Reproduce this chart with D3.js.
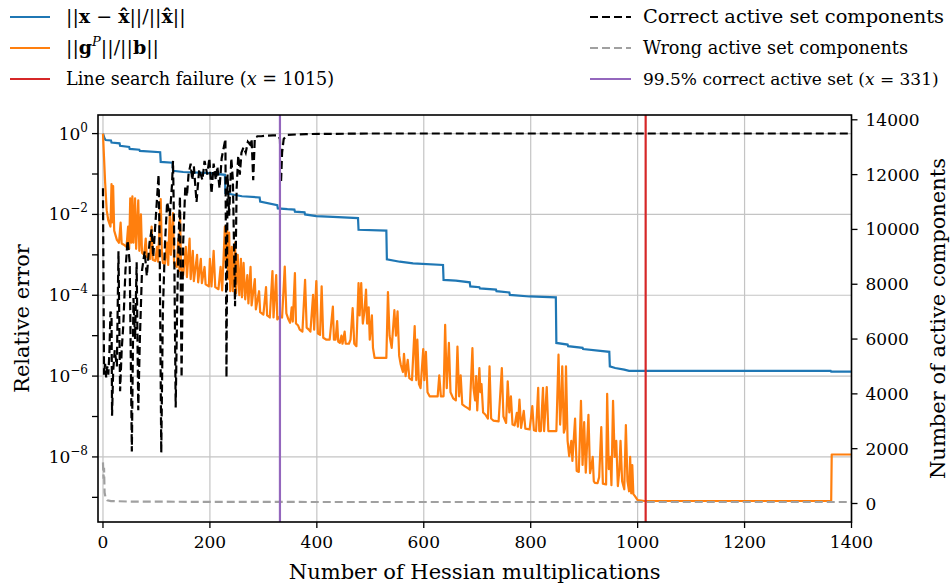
<!DOCTYPE html>
<html>
<head>
<meta charset="utf-8">
<script src="https://cdn.jsdelivr.net/npm/d3@7"></script>
<style>
body { margin: 0; background: #fff; }
text { font-family: "DejaVu Serif", serif; fill: #000; }
</style>
</head>
<body>
<div id="chart"></div>
<script>
// ticks
var xTicks = [0, 200, 400, 600, 800, 1000, 1200, 1400];
var leftTickExps = [0, -1, -2, -3, -4, -5, -6, -7, -8, -9];
var leftLabelExps = [0, -2, -4, -6, -8];
var rightTicks = [0, 2000, 4000, 6000, 8000, 10000, 12000, 14000];

var failX = 1015;   // line search failure
var activeX = 331;  // 99.5% correct active set

// ||x - xhat|| / ||xhat||  -> [hessian mults, log10 value]
var errPts = [[0, 0], [3, -0.12], [5, -0.16], [15, -0.17], [16, -0.22], [31, -0.24], [32, -0.3],
    [49, -0.33], [50, -0.38], [68, -0.4], [69, -0.43], [107, -0.46], [108, -0.7], [130, -0.72],
    [131, -0.92], [150, -0.95], [200, -0.98], [228, -1.02], [229, -1.47], [240, -1.5], [260, -1.55],
    [293, -1.58], [294, -1.68], [326, -1.77], [327, -1.85], [345, -1.87], [358, -1.88], [359, -1.93],
    [377, -1.95], [378, -2.0], [399, -2.04], [430, -2.06], [477, -2.09], [478, -2.38], [530, -2.4],
    [531, -3.11], [555, -3.17], [580, -3.21], [636, -3.25], [637, -3.62], [660, -3.64], [686, -3.68],
    [687, -3.78], [704, -3.8], [705, -3.83], [735, -3.86], [736, -3.9], [760, -3.93], [761, -3.99],
    [798, -4.03], [847, -4.05], [848, -5.18], [869, -5.22], [870, -5.26], [897, -5.3], [898, -5.33],
    [947, -5.4], [948, -5.76], [958, -5.8], [975, -5.84], [984, -5.87], [1361, -5.87], [1362, -5.89],
    [1400, -5.89]];

// ||g^P|| / ||b||  -> [hessian mults, log10 value]
var gradPts = [[0, 0], [2, -0.6], [4, -1.2], [7, -1.9], [10, -2.15], [14, -2.3], [16, -1.25], [17, -2.2],
    [19, -1.3], [21, -2.4], [26, -2.63], [30, -2.7], [33, -2.2], [35, -2.72], [39, -2.75], [44, -2.8],
    [47, -2.3], [49, -2.85], [51, -1.6], [53, -2.7], [55, -1.55], [57, -2.7], [60, -1.6], [62, -2.85],
    [66, -1.65], [68, -2.9], [71, -2.0], [73, -2.95], [77, -3.0], [80, -2.6], [82, -3.05], [88, -3.1],
    [91, -2.3], [93, -3.12], [98, -3.15], [101, -2.8], [103, -3.17], [108, -1.62], [110, -2.9], [112, -3.2],
    [116, -3.22], [120, -2.7], [122, -3.25], [125, -1.95], [127, -3.0], [131, -1.97], [133, -3.2],
    [138, -3.3], [141, -2.6], [143, -3.4], [144, -1.95], [146, -3.3], [150, -3.5], [155, -2.8],
    [157, -3.55], [162, -2.6], [164, -3.6], [168, -2.9], [170, -3.65], [176, -3.0], [178, -3.68],
    [183, -3.1], [185, -3.7], [190, -3.3], [192, -3.73], [198, -3.78], [200, -3.1], [203, -3.78],
    [207, -2.9], [210, -3.8], [216, -3.85], [220, -3.3], [223, -3.88], [228, -2.3], [230, -3.3],
    [232, -2.35], [234, -3.6], [236, -2.45], [238, -3.9], [241, -2.8], [243, -3.9], [247, -2.7],
    [249, -3.95], [252, -3.0], [255, -4.0], [258, -3.1], [260, -4.05], [263, -3.2], [266, -4.1],
    [270, -3.5], [272, -4.2], [276, -3.3], [278, -4.25], [284, -3.6], [286, -4.35], [292, -3.9],
    [294, -4.42], [300, -4.48], [305, -3.8], [307, -4.5], [312, -4.55], [317, -3.4], [319, -4.55],
    [324, -3.5], [326, -4.6], [331, -4.52], [335, -4.55], [340, -3.29], [343, -4.45], [347, -4.6],
    [350, -4.68], [353, -4.3], [355, -4.65], [359, -3.45], [361, -4.7], [365, -4.75], [368, -4.85],
    [373, -4.9], [378, -3.62], [381, -4.8], [385, -4.85], [388, -4.9], [393, -3.99], [395, -4.85],
    [399, -3.65], [402, -4.95], [406, -4.98], [409, -3.78], [412, -5.05], [418, -5.1], [424, -5.1],
    [430, -4.28], [432, -5.1], [435, -5.1], [438, -4.64], [440, -5.15], [443, -5.18], [446, -5.0],
    [448, -5.2], [452, -4.9], [454, -5.2], [460, -5.2], [463, -5.1], [467, -4.32], [470, -5.2],
    [474, -5.26], [478, -3.7], [480, -4.5], [483, -3.7], [486, -4.7], [489, -4.4], [492, -3.86],
    [494, -4.7], [497, -4.3], [499, -5.1], [503, -4.5], [505, -5.3], [508, -5.55], [520, -5.55],
    [530, -5.55], [533, -3.92], [536, -5.0], [540, -5.3], [545, -4.37], [548, -5.0], [551, -4.4],
    [554, -5.5], [557, -5.72], [561, -5.9], [563, -5.45], [566, -6.0], [570, -5.6], [573, -6.05],
    [578, -6.1], [583, -4.76], [586, -6.1], [588, -5.1], [591, -6.2], [594, -6.3], [599, -5.33],
    [601, -6.1], [604, -5.4], [607, -6.4], [611, -6.5], [620, -6.5], [626, -6.5], [629, -5.98],
    [632, -6.5], [637, -6.5], [640, -4.73], [643, -6.3], [647, -5.18], [650, -6.4], [655, -6.55],
    [660, -6.6], [663, -5.27], [666, -6.5], [669, -5.98], [672, -6.7], [677, -6.75], [683, -6.8],
    [686, -6.83], [691, -5.31], [693, -6.3], [696, -6.6], [698, -6.0], [700, -6.85], [704, -5.8],
    [706, -6.4], [708, -6.2], [711, -6.9], [715, -6.95], [720, -7.05], [723, -5.76], [726, -7.05],
    [730, -7.1], [740, -7.12], [746, -5.8], [749, -7.0], [754, -7.16], [757, -6.13], [760, -6.9],
    [763, -6.5], [766, -7.2], [770, -7.22], [774, -6.91], [776, -7.25], [779, -6.58], [782, -7.28],
    [787, -6.86], [790, -7.3], [798, -7.32], [803, -6.74], [806, -7.34], [810, -7.36], [814, -6.29],
    [816, -7.36], [819, -7.36], [823, -6.29], [825, -7.36], [830, -6.27], [833, -7.36], [848, -7.36],
    [852, -5.47], [855, -7.2], [857, -6.7], [859, -5.76], [862, -7.4], [864, -7.3], [866, -5.76],
    [869, -7.6], [872, -7.98], [876, -7.6], [878, -8.1], [883, -7.05], [886, -8.35], [890, -8.37],
    [894, -6.61], [897, -8.2], [900, -7.14], [903, -8.39], [908, -6.96], [911, -8.4], [914, -8.2],
    [916, -8.0], [918, -8.6], [920, -8.64], [925, -8.65], [928, -8.5], [930, -7.9], [932, -7.26],
    [935, -8.66], [941, -8.68], [943, -6.44], [946, -8.3], [949, -8.0], [951, -8.7], [954, -6.61],
    [957, -8.0], [960, -7.6], [963, -8.72], [966, -8.3], [968, -7.6], [971, -8.6], [975, -8.8],
    [978, -7.21], [981, -8.6], [984, -8.85], [986, -8.0], [988, -8.9], [990, -8.2], [992, -8.92],
    [995, -8.97], [1000, -9.07], [1013, -9.09], [1362, -9.09], [1363, -7.94], [1400, -7.94]];

// correct active set components (right axis)
var correctPts = [[0, 11500], [1, 8000], [2, 4700], [4, 5100], [6, 4600], [8, 5000], [10, 4700],
    [12, 5500], [14, 7000], [16, 6900], [17, 3200], [19, 4800], [22, 5600], [26, 5000], [29, 9200],
    [32, 4100], [35, 5600], [38, 6500], [42, 8500], [46, 9600], [50, 8800], [54, 1900], [57, 7500],
    [60, 6000], [63, 8800], [66, 3400], [69, 6000], [73, 8500], [78, 9200], [82, 8300], [87, 9500],
    [91, 10000], [94, 9000], [100, 10800], [104, 12000], [106, 9500], [109, 1850], [112, 7000],
    [116, 9500], [120, 11000], [125, 10500], [129, 11600], [131, 12500], [133, 10000], [136, 3500],
    [139, 7500], [142, 10000], [144, 11200], [147, 4600], [150, 9500], [154, 11600], [157, 11200],
    [160, 12000], [164, 12400], [167, 11800], [170, 12300], [175, 11000], [180, 12200], [186, 11800],
    [190, 12500], [195, 12000], [199, 12600], [203, 11300], [207, 12400], [211, 11800], [214, 12300],
    [218, 11500], [222, 12600], [226, 13000], [229, 13300], [231, 4600], [233, 12000], [236, 10500],
    [240, 12600], [243, 11800], [247, 7200], [250, 11500], [253, 12700], [256, 12000], [259, 12800],
    [263, 13000], [267, 12800], [271, 13200], [275, 13100], [278, 13300], [281, 11800], [284, 13350],
    [289, 13400], [296, 13400], [305, 13420], [318, 13430], [328, 13430], [331, 13300], [333, 11700],
    [335, 12800], [338, 13300], [345, 13450], [380, 13480], [500, 13500], [1400, 13500]];

// wrong active set components (right axis)
var wrongPts = [[0, 1500], [1, 900], [2, 1300], [3, 400], [5, 200], [8, 120], [15, 90], [50, 70],
    [200, 60], [400, 55], [1400, 55]];

var legendLeft = ["err", "grad", "Line search failure"];
var legendRight = ["Correct active set components", "Wrong active set components", "99.5% correct active set"];

var W = 951, H = 584,
    plot = {l: 98, r: 851.5, t: 115, b: 522};

var svg = d3.select("#chart").append("svg")
    .attr("width", W)
    .attr("height", H);

svg.append("rect").attr("width", W).attr("height", H).attr("fill", "#fff");

var x = d3.scaleLinear().domain([-9.3, 1400]).range([plot.l, plot.r]);
var yL = d3.scaleLog().domain([Math.pow(10, -9.61), Math.pow(10, 0.46)]).range([plot.b, plot.t]);
var yR = d3.scaleLinear().domain([-675, 14175]).range([plot.b, plot.t]);

svg.append("clipPath").attr("id", "clip")
    .append("rect")
    .attr("x", plot.l).attr("y", plot.t)
    .attr("width", plot.r - plot.l).attr("height", plot.b - plot.t);

// grid
var grid = svg.append("g").attr("stroke", "#c4c4c4").attr("stroke-width", 1.2);
xTicks.forEach(function(t) {
    grid.append("line")
        .attr("x1", x(t)).attr("x2", x(t))
        .attr("y1", plot.t).attr("y2", plot.b);
});
leftLabelExps.forEach(function(e) {
    grid.append("line")
        .attr("x1", plot.l).attr("x2", plot.r)
        .attr("y1", yL(Math.pow(10, e))).attr("y2", yL(Math.pow(10, e)));
});

var lines = svg.append("g").attr("clip-path", "url(#clip)").attr("fill", "none");

var lineL = d3.line()
    .x(function(d) { return x(d[0]); })
    .y(function(d) { return yL(Math.pow(10, d[1])); });
var lineR = d3.line()
    .x(function(d) { return x(d[0]); })
    .y(function(d) { return yR(d[1]); });

lines.append("path").attr("d", lineL(errPts))
    .attr("stroke", "#1f77b4").attr("stroke-width", 2.2);
lines.append("path").attr("d", lineL(gradPts))
    .attr("stroke", "#ff7f0e").attr("stroke-width", 2.2).attr("stroke-linejoin", "round");
lines.append("path").attr("d", lineR(correctPts))
    .attr("stroke", "#000").attr("stroke-width", 2.2).attr("stroke-dasharray", "8,4");
lines.append("path").attr("d", lineR(wrongPts))
    .attr("stroke", "#a0a0a0").attr("stroke-width", 2.2).attr("stroke-dasharray", "8,4");

lines.append("line")
    .attr("x1", x(failX)).attr("x2", x(failX))
    .attr("y1", plot.t).attr("y2", plot.b)
    .attr("stroke", "#d62728").attr("stroke-width", 2.2);
lines.append("line")
    .attr("x1", x(activeX)).attr("x2", x(activeX))
    .attr("y1", plot.t).attr("y2", plot.b)
    .attr("stroke", "#9467bd").attr("stroke-width", 2.2);

// frame
svg.append("rect")
    .attr("x", plot.l).attr("y", plot.t)
    .attr("width", plot.r - plot.l).attr("height", plot.b - plot.t)
    .attr("fill", "none").attr("stroke", "#000").attr("stroke-width", 1.6);

var tickSize = 6, fs = 17;

// bottom axis
var gx = svg.append("g");
xTicks.forEach(function(t) {
    gx.append("line")
        .attr("x1", x(t)).attr("x2", x(t))
        .attr("y1", plot.b).attr("y2", plot.b + tickSize)
        .attr("stroke", "#000").attr("stroke-width", 1.3);
    gx.append("text")
        .attr("x", x(t)).attr("y", plot.b + 26)
        .attr("text-anchor", "middle")
        .style("font-size", fs + "px")
        .text(t);
});

// left axis
var gy = svg.append("g");
leftTickExps.forEach(function(e) {
    var yy = yL(Math.pow(10, e));
    gy.append("line")
        .attr("x1", plot.l - tickSize).attr("x2", plot.l)
        .attr("y1", yy).attr("y2", yy)
        .attr("stroke", "#000").attr("stroke-width", 1.3);
    if (leftLabelExps.indexOf(e) < 0) return;
    var t = gy.append("text")
        .attr("x", plot.l - 10).attr("y", yy + 6)
        .attr("text-anchor", "end")
        .style("font-size", fs + "px");
    t.append("tspan").text("10");
    t.append("tspan").attr("dy", -8).style("font-size", "12px")
        .text(e == 0 ? "0" : "\u2212" + (-e));
});

// right axis
var gr = svg.append("g");
rightTicks.forEach(function(v) {
    gr.append("line")
        .attr("x1", plot.r).attr("x2", plot.r + tickSize)
        .attr("y1", yR(v)).attr("y2", yR(v))
        .attr("stroke", "#000").attr("stroke-width", 1.3);
    gr.append("text")
        .attr("x", plot.r + 14).attr("y", yR(v) + 6)
        .style("font-size", fs + "px")
        .text(v);
});

// axis titles
svg.append("text")
    .attr("x", (plot.l + plot.r) / 2).attr("y", 579)
    .attr("text-anchor", "middle")
    .style("font-size", "21px")
    .text("Number of Hessian multiplications");
svg.append("text")
    .attr("transform", "translate(29," + ((plot.t + plot.b) / 2) + ") rotate(-90)")
    .attr("text-anchor", "middle")
    .style("font-size", "21px")
    .text("Relative error");
svg.append("text")
    .attr("transform", "translate(945," + ((plot.t + plot.b) / 2) + ") rotate(-90)")
    .attr("text-anchor", "middle")
    .style("font-size", "21px")
    .text("Number of active components");

// legend
var rows = [17, 48, 79];
var leftColors = ["#1f77b4", "#ff7f0e", "#d62728"];
var rightColors = ["#000", "#a0a0a0", "#9467bd"];
var lg = svg.append("g");

rows.forEach(function(ry, i) {
    lg.append("line").attr("x1", 10).attr("x2", 50).attr("y1", ry).attr("y2", ry)
        .attr("stroke", leftColors[i]).attr("stroke-width", 2.2);
    lg.append("line").attr("x1", 590).attr("x2", 631).attr("y1", ry).attr("y2", ry)
        .attr("stroke", rightColors[i]).attr("stroke-width", 2.2)
        .attr("stroke-dasharray", i < 2 ? "8,4" : null);
});

// ||x - xhat|| / ||xhat||
var t1 = lg.append("text").attr("x", 66).attr("y", rows[0] + 6).style("font-size", "19px");
t1.append("tspan").text("||");
t1.append("tspan").style("font-weight", "bold").text("x");
t1.append("tspan").text(" \u2212 ");
t1.append("tspan").style("font-weight", "bold").text("x\u0302");
t1.append("tspan").text("||/||");
t1.append("tspan").style("font-weight", "bold").text("x\u0302");
t1.append("tspan").text("||");

// ||g^P|| / ||b||
var t2 = lg.append("text").attr("x", 66).attr("y", rows[1] + 6).style("font-size", "19px");
t2.append("tspan").text("||");
t2.append("tspan").style("font-weight", "bold").text("g");
t2.append("tspan").attr("dy", -8).style("font-size", "13px").style("font-style", "italic").text("P");
t2.append("tspan").attr("dy", 8).text("||/||");
t2.append("tspan").style("font-weight", "bold").text("b");
t2.append("tspan").text("||");

var t3 = lg.append("text").attr("x", 66).attr("y", rows[2] + 6).style("font-size", "17.6px");
t3.append("tspan").text(legendLeft[2] + " (");
t3.append("tspan").style("font-style", "italic").text("x");
t3.append("tspan").text(" = " + failX + ")");

lg.append("text").attr("x", 643).attr("y", rows[0] + 6).style("font-size", "19px")
    .attr("textLength", 301).attr("lengthAdjust", "spacingAndGlyphs").text(legendRight[0]);
lg.append("text").attr("x", 643).attr("y", rows[1] + 6).style("font-size", "19px")
    .attr("textLength", 265).attr("lengthAdjust", "spacingAndGlyphs").text(legendRight[1]);
var t6 = lg.append("text").attr("x", 643).attr("y", rows[2] + 6).style("font-size", "17px");
t6.append("tspan").text(legendRight[2] + " (");
t6.append("tspan").style("font-style", "italic").text("x");
t6.append("tspan").text(" = " + activeX + ")");
</script>
</body>
</html>
